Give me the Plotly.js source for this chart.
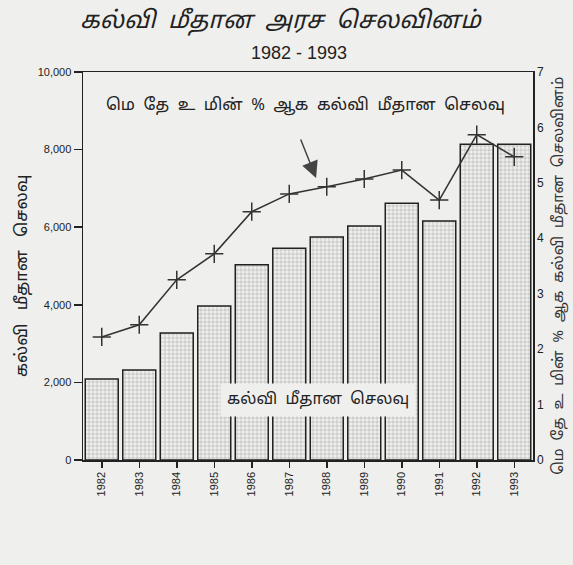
<!DOCTYPE html>
<html>
<head>
<meta charset="utf-8">
<script src="https://cdn.plot.ly/plotly-3.0.1.min.js"></script>
<style>
html,body{margin:0;padding:0;background:#efefed;}
#chart{width:573px;height:565px;}
</style>
</head>
<body>
<div id="chart"></div>
<script>
const years = ["1982","1983","1984","1985","1986","1987","1988","1989","1990","1991","1992","1993"];
const spending = [2090, 2320, 3270, 3970, 5030, 5460, 5750, 6030, 6620, 6160, 8140, 8140];
const pctGDP = [2.22, 2.44, 3.25, 3.72, 4.48, 4.80, 4.93, 5.07, 5.23, 4.69, 5.87, 5.47];
const leftTicks = [0, 2000, 4000, 6000, 8000, 10000];
const leftTickText = ["0", "2,000", "4,000", "6,000", "8,000", "10,000"];
const rightTicks = [0, 1, 2, 3, 4, 5, 6, 7];

const SP = "\u00a0\u00a0";
const titleText = ["கல்வி", "மீதான", "அரச", "செலவினம்"].join(SP);
const subtitleText = "1982 - 1993";
const leftTitle = ["கல்வி", "மீதான", "செலவு"].join(SP + "\u00a0");
const rightTitle = ["மெ", "தே", "உ", "மின்", "%", "ஆக", "கல்வி", "மீதான", "செலவினம்"].join(SP);
const lineLabel = ["மெ", "தே", "உ", "மின்", "%", "ஆக", "கல்வி", "மீதான", "செலவு"].join(SP);
const barLabel = ["கல்வி", "மீதான", "செலவு"].join(SP);

const TAMIL = "'Noto Sans Tamil', 'Noto Sans', 'DejaVu Sans', sans-serif";
const NARROW = "'Liberation Sans Narrow', 'Liberation Sans', Arial, sans-serif";
const BG = "#efefed";

const traces = [
  {
    type: "bar", x: years, y: spending, yaxis: "y",
    marker: {
      color: "#e8e8e6",
      line: {color: "#222", width: 1.5},
      pattern: {shape: "+", fgcolor: "#9a9a9a", bgcolor: "#efefed", size: 4, solidity: 0.2}
    },
    hoverinfo: "skip"
  },
  {
    type: "scatter", mode: "lines+markers", x: years, y: pctGDP, yaxis: "y2",
    line: {color: "#333", width: 1.5},
    marker: {symbol: "cross-thin-open", size: 13, line: {color: "#222", width: 1.5}},
    hoverinfo: "skip"
  }
];

const layout = {
  width: 573, height: 565,
  paper_bgcolor: BG, plot_bgcolor: BG,
  margin: {l: 83, r: 40, t: 72, b: 105},
  showlegend: false,
  bargap: 0.12,
  font: {family: NARROW, color: "#222"},
  xaxis: {
    type: "category", range: [-0.5, 11.5],
    showline: true, linecolor: "#222", linewidth: 1.5, mirror: true,
    ticks: "outside", ticklen: 6, tickcolor: "#222", tickwidth: 1.5,
    tickangle: -90, tickfont: {size: 11, family: NARROW, color: "#222"},
    showgrid: false, zeroline: false
  },
  yaxis: {
    range: [0, 10000], tickvals: leftTicks, ticktext: leftTickText,
    showline: true, linecolor: "#222", linewidth: 1.5,
    ticks: "outside", ticklen: 8, tickcolor: "#222", tickwidth: 1.5,
    tickfont: {size: 11, family: NARROW, color: "#222"},
    showgrid: false, zeroline: false
  },
  yaxis2: {
    range: [0, 7], tickvals: rightTicks, overlaying: "y", side: "right",
    showline: true, linecolor: "#222", linewidth: 1.5,
    ticks: "", tickfont: {size: 12, family: NARROW, color: "#222"},
    showgrid: false, zeroline: false
  },
  annotations: [
    {text: titleText, xref: "paper", yref: "paper", x: 0.44, y: 1.13, xanchor: "center", yanchor: "middle",
     showarrow: false, font: {family: TAMIL, size: 24, color: "#222", style: "italic"}},
    {text: subtitleText, xref: "paper", yref: "paper", x: 0.48, y: 1.05, xanchor: "center", yanchor: "middle",
     showarrow: false, font: {family: NARROW, size: 18, color: "#222"}},
    {text: leftTitle, xref: "paper", yref: "paper", x: -0.135, y: 0.475, xanchor: "center", yanchor: "middle",
     textangle: -90, showarrow: false, font: {family: TAMIL, size: 17, color: "#222"}},
    {text: rightTitle, xref: "paper", yref: "paper", x: 1.06, y: 0.475, xanchor: "center", yanchor: "middle",
     textangle: -90, showarrow: false, font: {family: TAMIL, size: 15, color: "#333"}},
    {text: lineLabel, xref: "paper", yref: "paper", x: 0.495, y: 0.914, xanchor: "center", yanchor: "middle",
     showarrow: false, bgcolor: BG, borderpad: 4, font: {family: TAMIL, size: 16.5, color: "#222"}},
    {text: barLabel, xref: "paper", yref: "paper", x: 0.522, y: 0.155, xanchor: "center", yanchor: "middle",
     showarrow: false, bgcolor: BG, borderpad: 6, font: {family: TAMIL, size: 16, color: "#222"}},
    {text: "", xref: "paper", yref: "paper", x: 0.518, y: 0.727, ax: -16, ay: -40,
     showarrow: true, arrowhead: 2, arrowsize: 2.2, arrowwidth: 1.5, arrowcolor: "#444"}
  ]
};

Plotly.newPlot("chart", traces, layout, {staticPlot: true});
</script>
</body>
</html>
